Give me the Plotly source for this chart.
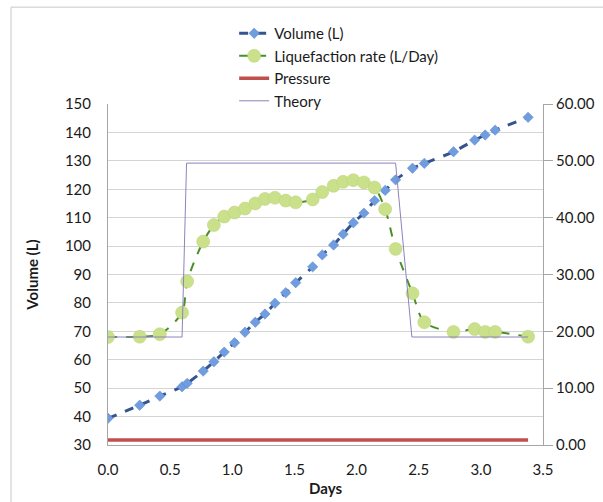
import plotly.graph_objects as go

# Sampling times (days)
days = [0.0, 0.255, 0.417, 0.596, 0.637, 0.766, 0.852, 0.935, 1.018, 1.102,
        1.185, 1.263, 1.343, 1.430, 1.510, 1.647, 1.724, 1.815, 1.892, 1.974,
        2.059, 2.145, 2.230, 2.314, 2.450, 2.545, 2.780, 2.950, 3.035, 3.115,
        3.380]

# Accumulated volume (L), left axis
volume = [39.4, 44.0, 47.2, 50.5, 51.7, 56.0, 59.3, 62.7, 66.0, 69.7,
          73.2, 76.1, 79.9, 83.6, 87.1, 92.7, 96.9, 100.4, 104.2, 108.2,
          111.6, 116.0, 119.6, 123.3, 127.4, 129.1, 133.2, 137.3, 139.1, 140.8,
          145.3]

# Liquefaction rate (L/Day), right axis
rate = [19.0, 19.06, 19.5, 23.3, 28.8, 35.8, 38.7, 40.2, 40.9, 41.6,
        42.5, 43.3, 43.5, 43.0, 42.7, 43.2, 44.5, 45.6, 46.3, 46.6,
        46.2, 45.3, 41.5, 34.5, 26.7, 21.6, 19.9, 20.4, 19.9, 19.9,
        19.06]

# Pressure, right axis
pressure_days = [0.0, 3.38]
pressure = [0.9, 0.9]

# Theoretical liquefaction rate profile, right axis
theory_days = [0.0, 0.596, 0.632, 2.314, 2.445, 3.38]
theory = [19.0, 19.0, 49.6, 49.6, 19.0, 19.0]

font_family = "Lato, 'Open Sans', sans-serif"
grid_col = "#d4d4d4"
axis_col = "#a6a6a6"
clear = "rgba(0,0,0,0)"

fig = go.Figure()

fig.add_trace(go.Scatter(
    x=days, y=volume, name="Volume (L)", mode="lines+markers",
    line=dict(color="#35558f", width=3, dash="dash", shape="spline", smoothing=0.6),
    marker=dict(symbol="diamond", size=8, color="#6f9de0",
                line=dict(color="#5a86c8", width=0.5)),
))

fig.add_trace(go.Scatter(
    x=days, y=rate, name="Liquefaction rate (L/Day)", mode="lines+markers",
    yaxis="y2",
    line=dict(color="#4a8f2a", width=2, dash="dash", shape="spline", smoothing=0.8),
    marker=dict(symbol="circle", size=13, color="#cbe08a",
                line=dict(color="#b8d276", width=0.5)),
))

fig.add_trace(go.Scatter(
    x=pressure_days, y=pressure, name="Pressure", mode="lines", yaxis="y2",
    line=dict(color="#c0504d", width=3.5),
))

fig.add_trace(go.Scatter(
    x=theory_days, y=theory, name="Theory", mode="lines", yaxis="y2",
    line=dict(color="#8c84bd", width=1),
))

fig.update_layout(
    width=603, height=502,
    margin=dict(l=108, r=60, t=104, b=57, autoexpand=False),
    paper_bgcolor="white", plot_bgcolor="white",
    font=dict(family=font_family, size=15, color="#1a1a1a"),
    showlegend=True,
    legend=dict(
        x=0.29, xanchor="left", y=1.255, yanchor="top",
        bgcolor=clear, font=dict(size=15),
        itemwidth=30, tracegroupgap=0,
    ),
    xaxis=dict(
        range=[0, 3.5], dtick=0.5, tickformat=".1f",
        showgrid=False, zeroline=False, automargin=False,
        showline=True, linecolor=axis_col, linewidth=1,
        ticks="outside", ticklen=11, tickcolor=clear,
        title=dict(text="<b>Days</b>", font=dict(size=15), standoff=6),
    ),
    yaxis=dict(
        range=[30, 150], dtick=10, automargin=False,
        showgrid=True, gridcolor=grid_col, gridwidth=1, zeroline=False,
        showline=True, linecolor=axis_col, linewidth=1,
        ticks="outside", ticklen=13, tickcolor=clear,
        title=dict(text="<b>Volume (L)</b>", font=dict(size=15), standoff=22),
    ),
    yaxis2=dict(
        range=[0, 60], dtick=10, tickformat=".2f", automargin=False,
        overlaying="y", side="right",
        showgrid=False, zeroline=False,
        showline=True, linecolor=axis_col, linewidth=1,
        ticks="outside", ticklen=9, tickcolor=axis_col,
    ),
    shapes=[dict(
        type="rect", xref="paper", yref="paper",
        x0=-0.223, x1=1.25, y0=-0.25, y1=1.284,
        line=dict(color="#c8c8c8", width=1), layer="below",
    )],
)

fig.write_html("out.html")
